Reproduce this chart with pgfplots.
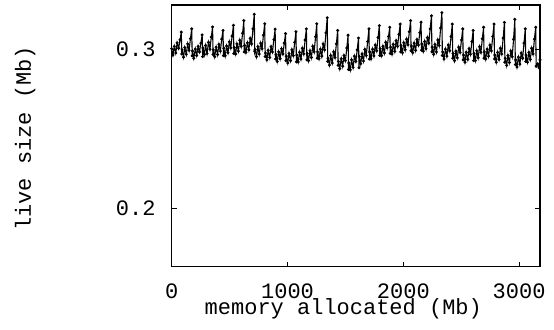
\documentclass[border=0pt]{standalone}
\usepackage{fontspec}
\setmainfont{Liberation Mono}
\usepackage{pgfplots}
\usepackage{pgfplotstable}
\pgfplotsset{compat=1.18}
\pgfplotstableread{
x y
0 .3005
11 .2965
23 .3020
35 .2978
47 .3042
60 .3008
72 .3062
83 .3110
87 .2972
90 .2998
102 .2952
113 .3012
126 .2970
138 .3035
150 .2995
162 .3068
173 .3130
177 .2960
180 .2990
191 .2945
204 .3003
216 .2962
228 .3020
240 .2985
252 .3040
263 .3092
267 .2955
270 .3010
282 .2968
293 .3025
305 .2975
318 .3045
330 .3002
342 .3078
353 .3142
357 .2968
360 .2998
371 .2955
384 .3015
396 .2968
408 .3032
420 .2990
432 .3065
443 .3120
447 .2962
450 .3008
462 .2960
474 .3022
486 .2980
498 .3048
510 .3010
522 .3085
533 .3152
537 .2975
540 .3012
552 .2972
563 .3035
576 .2990
588 .3058
600 .3020
612 .3102
623 .3182
627 .2985
630 .3025
641 .2982
654 .3042
666 .2998
678 .3070
690 .3035
702 .3130
713 .3222
717 .2990
720 .3000
732 .2955
744 .3018
756 .2972
768 .3040
780 .3005
792 .3090
803 .3162
807 .2955
810 .2978
822 .2935
833 .2995
846 .2950
858 .3018
870 .2985
882 .3062
893 .3128
897 .2940
900 .2968
911 .2925
924 .2985
936 .2942
948 .3005
960 .2972
972 .3040
983 .3100
987 .2930
990 .2958
1002 .2915
1013 .2975
1026 .2930
1038 .2998
1050 .2962
1062 .3045
1073 .3112
1077 .2922
1080 .2965
1092 .2922
1104 .2982
1116 .2940
1128 .3008
1140 .2972
1152 .3060
1163 .3130
1167 .2935
1170 .2975
1181 .2930
1194 .2992
1206 .2950
1218 .3020
1230 .2985
1242 .3080
1253 .3162
1257 .2945
1260 .2985
1272 .2942
1284 .3002
1296 .2958
1308 .3035
1320 .2998
1332 .3105
1343 .3200
1347 .2925
1350 .2945
1362 .2902
1373 .2962
1386 .2915
1398 .2985
1410 .2950
1422 .3035
1433 .3120
1437 .2900
1440 .2925
1451 .2880
1464 .2942
1476 .2895
1488 .2962
1500 .2930
1512 .3010
1523 .3090
1527 .2875
1530 .2915
1542 .2872
1553 .2935
1566 .2888
1578 .2958
1590 .2925
1602 .2998
1613 .3072
1617 .2885
1620 .2955
1632 .2910
1644 .2972
1656 .2928
1668 .3000
1680 .2962
1692 .3050
1703 .3130
1707 .2940
1710 .2985
1721 .2942
1734 .3002
1746 .2960
1758 .3028
1770 .2992
1782 .3075
1793 .3150
1797 .2962
1800 .3005
1812 .2962
1824 .3020
1836 .2978
1848 .3045
1860 .3010
1872 .3082
1883 .3140
1887 .2975
1890 .3015
1902 .2972
1913 .3032
1926 .2988
1938 .3055
1950 .3020
1962 .3095
1973 .3160
1977 .2985
1980 .3025
1992 .2980
2004 .3042
2016 .2998
2028 .3065
2040 .3030
2052 .3112
2063 .3182
2067 .2992
2070 .3022
2081 .2980
2094 .3040
2106 .2995
2118 .3062
2130 .3028
2142 .3105
2153 .3172
2157 .2995
2160 .3035
2172 .2990
2184 .3050
2196 .3005
2208 .3075
2220 .3040
2232 .3130
2243 .3212
2247 .2985
2250 .3015
2262 .2970
2273 .3032
2286 .2985
2298 .3060
2310 .3025
2322 .3135
2333 .3232
2337 .2962
2340 .2985
2351 .2940
2364 .3002
2376 .2958
2388 .3028
2400 .2992
2412 .3082
2423 .3160
2427 .2945
2430 .2975
2442 .2930
2454 .2990
2466 .2948
2478 .3015
2490 .2982
2502 .3060
2513 .3130
2517 .2935
2520 .2965
2532 .2920
2543 .2982
2556 .2938
2568 .3005
2580 .2970
2592 .3050
2603 .3120
2607 .2930
2610 .2975
2622 .2930
2634 .2992
2646 .2948
2658 .3018
2670 .2982
2682 .3068
2693 .3140
2697 .2945
2700 .2985
2711 .2940
2724 .3002
2736 .2958
2748 .3028
2760 .2992
2772 .3082
2783 .3160
2787 .2940
2790 .2965
2802 .2920
2814 .2982
2826 .2938
2838 .3008
2850 .2972
2862 .3072
2873 .3170
2877 .2920
2880 .2945
2892 .2900
2903 .2962
2916 .2918
2928 .2990
2940 .2955
2952 .3065
2963 .3190
2967 .2905
2970 .2935
2981 .2890
2994 .2952
3006 .2908
3018 .2978
3030 .2945
3042 .3040
3053 .3130
3057 .2925
3060 .2965
3072 .2920
3084 .2982
3096 .2938
3108 .3008
3120 .2972
3132 .3065
3143 .3140
3147 .2895
3160 .2910
3172 .2885
3180 .2935
}\livedata
\begin{document}
\begin{tikzpicture}
\useasboundingbox (-85.85pt,-31.65pt) rectangle (191.15pt,133.35pt);
\begin{axis}[
  scale only axis,
  width=184.15pt, height=130.85pt,
  xmin=0, xmax=3180,
  ymin=0.1634, ymax=0.328,
  xtick={0,1000,2000,3000},
  ytick={0.2,0.3},
  yticklabels={0.2,0.3},
  major tick length=2.5pt,
  tick style={black, line width=0.5pt},
  axis line style={line width=0.6pt},
  /pgf/number format/assume math mode=true,
  /pgf/number format/1000 sep={},
  ticklabel style={font=\fontsize{11}{13}\selectfont},
  xticklabel style={anchor=base, inner sep=0pt, yshift=-15.8pt},
  yticklabel style={anchor=east, inner sep=0pt, xshift=-7.85pt},
  xlabel={memory allocated (Mb)},
  ylabel={live size (Mb)},
  label style={font=\fontsize{11}{13}\selectfont},
  xlabel style={at={(axis description cs:0.466,-0.1846)}, anchor=base, inner sep=0pt},
  ylabel style={at={(axis description cs:-0.398,0.491)}, anchor=center, inner sep=0pt},
]
\addplot[black, line width=0.55pt, mark=*, mark size=0.45pt] table[x=x, y=y] {\livedata};
\end{axis}
\end{tikzpicture}
\end{document}
